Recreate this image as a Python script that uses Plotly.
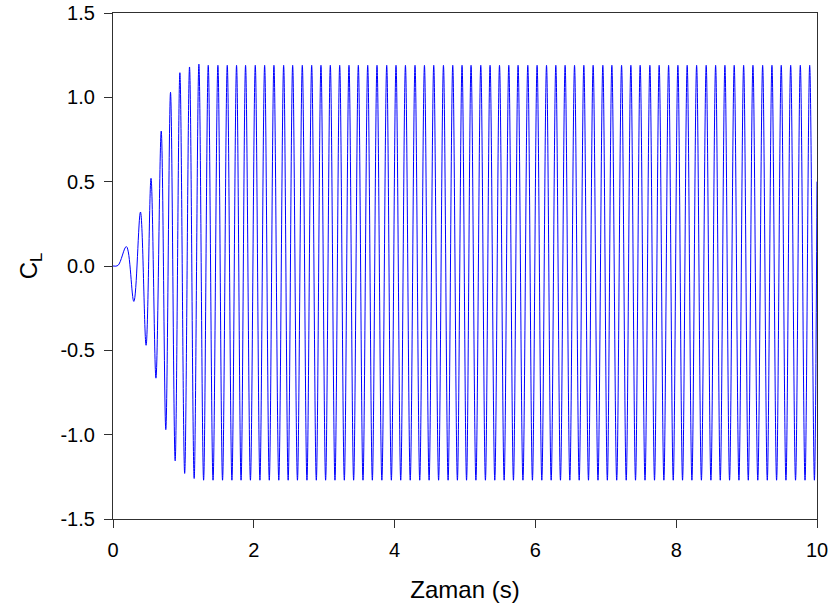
import plotly.graph_objects as go

# Extrema (time in s, lift coefficient C_L)
start_times = [0.0, 0.07]
start_values = [0.0, 0.003]

peak_times = [0.19, 0.39, 0.54, 0.685,
              0.817, 0.950, 1.087, 1.220, 1.353, 1.490, 1.623, 1.755, 1.883, 2.021,
              2.154, 2.286, 2.424, 2.552, 2.689, 2.822, 2.954, 3.087, 3.220, 3.352,
              3.485, 3.618, 3.750, 3.888, 4.020, 4.154, 4.290, 4.424, 4.556, 4.694,
              4.826, 4.958, 5.086, 5.224, 5.356, 5.490, 5.622, 5.754, 5.892, 6.024,
              6.158, 6.290, 6.422, 6.556, 6.688, 6.820, 6.958, 7.086, 7.224, 7.356,
              7.488, 7.626, 7.758, 7.892, 8.024, 8.156, 8.290, 8.426, 8.560, 8.692,
              8.824, 8.958, 9.090, 9.228, 9.360, 9.492, 9.626, 9.763, 9.896]
peak_values = [0.115, 0.32, 0.52, 0.80,
               1.03, 1.146, 1.18, 1.197, 1.19, 1.19, 1.19, 1.19, 1.19, 1.19,
               1.19, 1.19, 1.19, 1.19, 1.19, 1.19, 1.19, 1.19, 1.19, 1.19,
               1.19, 1.19, 1.19, 1.19, 1.19, 1.19, 1.19, 1.19, 1.19, 1.19,
               1.19, 1.19, 1.19, 1.19, 1.19, 1.19, 1.19, 1.19, 1.19, 1.19,
               1.19, 1.19, 1.19, 1.19, 1.19, 1.19, 1.19, 1.19, 1.19, 1.19,
               1.19, 1.19, 1.19, 1.19, 1.19, 1.19, 1.19, 1.19, 1.19, 1.19,
               1.19, 1.19, 1.19, 1.19, 1.19, 1.19, 1.19, 1.19, 1.19]

trough_times = [0.296, 0.47, 0.61, 0.75,
                0.883, 1.018, 1.153, 1.287, 1.421, 1.556, 1.689, 1.819, 1.952, 2.087,
                2.220, 2.355, 2.488, 2.620, 2.755, 2.888, 3.020, 3.153, 3.286, 3.418,
                3.551, 3.684, 3.819, 3.954, 4.087, 4.222, 4.357, 4.490, 4.625, 4.760,
                4.892, 5.022, 5.155, 5.290, 5.423, 5.556, 5.688, 5.823, 5.958, 6.091,
                6.224, 6.356, 6.489, 6.622, 6.754, 6.889, 7.022, 7.155, 7.290, 7.422,
                7.557, 7.692, 7.825, 7.958, 8.090, 8.223, 8.358, 8.493, 8.626, 8.758,
                8.891, 9.024, 9.159, 9.294, 9.426, 9.559, 9.695, 9.830, 9.963]
trough_values = [-0.21, -0.47, -0.665, -0.97,
                 -1.155, -1.23, -1.26, -1.27, -1.27, -1.27, -1.27, -1.27, -1.27, -1.27,
                 -1.27, -1.27, -1.27, -1.27, -1.27, -1.27, -1.27, -1.27, -1.27, -1.27,
                 -1.27, -1.27, -1.27, -1.27, -1.27, -1.27, -1.27, -1.27, -1.27, -1.27,
                 -1.27, -1.27, -1.27, -1.27, -1.27, -1.27, -1.27, -1.27, -1.27, -1.27,
                 -1.27, -1.27, -1.27, -1.27, -1.27, -1.27, -1.27, -1.27, -1.27, -1.27,
                 -1.27, -1.27, -1.27, -1.27, -1.27, -1.27, -1.27, -1.27, -1.27, -1.27,
                 -1.27, -1.27, -1.27, -1.27, -1.27, -1.27, -1.27, -1.27, -1.27]

end_times = [10.0]
end_values = [0.5]

x_ticks = [0, 2, 4, 6, 8, 10]
y_ticks = [-1.5, -1.0, -0.5, 0.0, 0.5, 1.0, 1.5]

# Merge extrema into one time-ordered series
pts = list(zip(start_times, start_values)) + list(zip(peak_times, peak_values)) \
    + list(zip(trough_times, trough_values)) + list(zip(end_times, end_values))
pts.sort(key=lambda p: p[0])
t = [p[0] for p in pts]
cl = [p[1] for p in pts]

fig = go.Figure()
fig.add_trace(go.Scatter(
    x=t, y=cl, mode="lines",
    line=dict(color="#0000ff", width=1, shape="spline", smoothing=1.0),
    showlegend=False, hoverinfo="x+y",
))

font_family = "Liberation Sans, Arial, sans-serif"
axis_common = dict(
    showgrid=False, zeroline=False, automargin=False,
    showline=True, linecolor="#303030", linewidth=1.2, mirror=True,
    ticks="outside", ticklen=8, tickwidth=1, tickcolor="#303030",
    tickfont=dict(family=font_family, size=20, color="#000000"),
    ticklabeloverflow="allow",
)

fig.update_layout(
    width=834, height=612,
    paper_bgcolor="white", plot_bgcolor="white",
    margin=dict(l=113, r=17, t=13, b=93),
    xaxis=dict(range=[0, 10], tickvals=x_ticks, ticktext=[str(v) for v in x_ticks],
               title=dict(text="Zaman (s)", font=dict(family=font_family, size=24, color="#000000"),
                          standoff=21),
               ticklabelstandoff=5, **axis_common),
    yaxis=dict(range=[-1.5, 1.5], tickvals=y_ticks, ticktext=[f"{v:.1f}" for v in y_ticks],
               title=dict(text="C<sub>L</sub>", font=dict(family=font_family, size=24, color="#000000"),
                          standoff=16),
               ticklabelstandoff=5, **axis_common),
)

# Remove the default page margin so the figure sits at the window's top-left corner
fig.write_html(
    "out.html",
    config={"displayModeBar": False},
    post_script="document.body.style.margin='0';document.body.style.padding='0';",
)
